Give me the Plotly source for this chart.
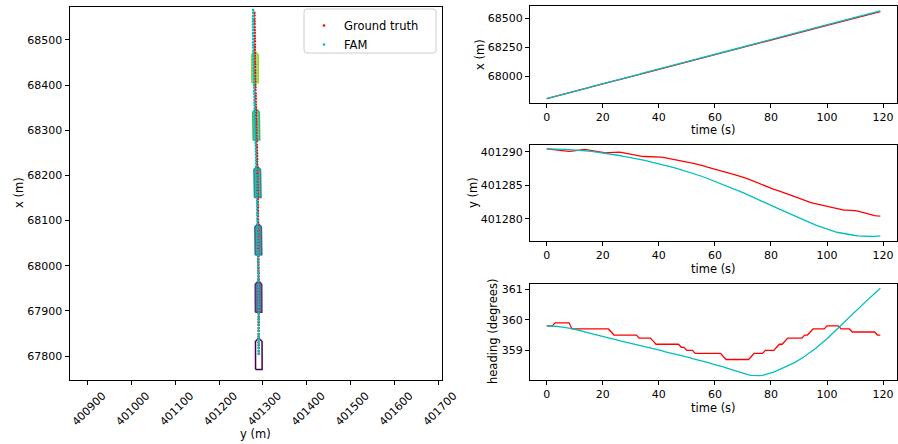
import math
import plotly.graph_objects as go
from plotly.colors import sample_colorscale

# ---------------- data ----------------
time_s = list(range(120))

x_gt = [67805, 67811, 67818, 67824, 67830, 67837, 67843, 67849, 67856, 67862,
        67869, 67875, 67881, 67887, 67894, 67900, 67907, 67913, 67919, 67926,
        67932, 67938, 67945, 67951, 67957, 67964, 67970, 67976, 67983, 67989,
        67995, 68002, 68008, 68014, 68021, 68027, 68033, 68040, 68046, 68053,
        68059, 68065, 68071, 68078, 68084, 68091, 68097, 68103, 68110, 68116,
        68122, 68129, 68135, 68141, 68148, 68154, 68160, 68167, 68173, 68179,
        68186, 68192, 68198, 68205, 68211, 68217, 68224, 68230, 68236, 68243,
        68249, 68255, 68262, 68268, 68275, 68281, 68287, 68294, 68300, 68306,
        68313, 68319, 68325, 68332, 68338, 68344, 68351, 68357, 68363, 68370,
        68376, 68382, 68389, 68395, 68401, 68408, 68414, 68420, 68427, 68433,
        68440, 68446, 68452, 68459, 68465, 68471, 68478, 68484, 68490, 68497,
        68503, 68509, 68516, 68522, 68528, 68535, 68541, 68547, 68554, 68560]

x_fam = [67805, 67811, 67818, 67824, 67830, 67837, 67843, 67849, 67856, 67862,
         67870, 67876, 67882, 67888, 67895, 67901, 67908, 67914, 67920, 67927,
         67933, 67939, 67946, 67952, 67958, 67965, 67971, 67977, 67984, 67990,
         67997, 68004, 68010, 68016, 68023, 68029, 68035, 68042, 68048, 68055,
         68061, 68067, 68073, 68080, 68086, 68093, 68099, 68105, 68112, 68118,
         68125, 68132, 68138, 68144, 68151, 68157, 68163, 68170, 68176, 68182,
         68189, 68195, 68201, 68208, 68214, 68220, 68227, 68233, 68239, 68246,
         68253, 68259, 68266, 68272, 68279, 68285, 68291, 68298, 68304, 68310,
         68317, 68323, 68329, 68336, 68342, 68348, 68355, 68361, 68367, 68374,
         68381, 68387, 68394, 68400, 68406, 68413, 68419, 68425, 68432, 68438,
         68445, 68451, 68457, 68464, 68470, 68476, 68483, 68489, 68495, 68502,
         68509, 68515, 68522, 68528, 68534, 68541, 68547, 68553, 68560, 68566]

y_gt = [401290.45, 401290.40, 401290.32, 401290.25, 401290.18, 401290.12, 401290.07, 401290.05, 401290.07, 401290.12,
        401290.18, 401290.25, 401290.32, 401290.35, 401290.32, 401290.25, 401290.16, 401290.06, 401289.97, 401289.90,
        401289.86, 401289.86, 401289.89, 401289.92, 401289.95, 401289.96, 401289.95, 401289.90, 401289.82, 401289.72,
        401289.62, 401289.52, 401289.43, 401289.36, 401289.32, 401289.31, 401289.31, 401289.31, 401289.31, 401289.30,
        401289.27, 401289.22, 401289.14, 401289.05, 401288.96, 401288.86, 401288.76, 401288.66, 401288.57, 401288.50,
        401288.44, 401288.38, 401288.32, 401288.24, 401288.14, 401288.02, 401287.90, 401287.77, 401287.64, 401287.51,
        401287.38, 401287.25, 401287.12, 401287.00, 401286.89, 401286.79, 401286.70, 401286.60, 401286.49, 401286.37,
        401286.23, 401286.08, 401285.92, 401285.75, 401285.57, 401285.38, 401285.19, 401285.01, 401284.84, 401284.68,
        401284.54, 401284.42, 401284.30, 401284.17, 401284.03, 401283.88, 401283.72, 401283.55, 401283.39, 401283.22,
        401283.06, 401282.90, 401282.75, 401282.61, 401282.48, 401282.36, 401282.26, 401282.17, 401282.08, 401281.98,
        401281.88, 401281.77, 401281.66, 401281.55, 401281.45, 401281.37, 401281.32, 401281.30, 401281.30, 401281.29,
        401281.24, 401281.15, 401281.03, 401280.90, 401280.78, 401280.67, 401280.58, 401280.50, 401280.44, 401280.40]

y_fam = [401290.45, 401290.45, 401290.44, 401290.43, 401290.42, 401290.40, 401290.38, 401290.36, 401290.33, 401290.31,
         401290.28, 401290.25, 401290.21, 401290.18, 401290.14, 401290.10, 401290.06, 401290.01, 401289.96, 401289.91,
         401289.85, 401289.79, 401289.73, 401289.67, 401289.60, 401289.53, 401289.46, 401289.38, 401289.31, 401289.23,
         401289.15, 401289.07, 401288.98, 401288.90, 401288.81, 401288.72, 401288.63, 401288.54, 401288.44, 401288.35,
         401288.25, 401288.14, 401288.03, 401287.92, 401287.81, 401287.70, 401287.58, 401287.46, 401287.33, 401287.21,
         401287.08, 401286.95, 401286.81, 401286.68, 401286.54, 401286.40, 401286.25, 401286.09, 401285.94, 401285.78,
         401285.62, 401285.46, 401285.30, 401285.13, 401284.97, 401284.80, 401284.63, 401284.45, 401284.28, 401284.10,
         401283.92, 401283.73, 401283.55, 401283.36, 401283.17, 401282.98, 401282.79, 401282.60, 401282.40, 401282.21,
         401282.02, 401281.83, 401281.64, 401281.45, 401281.26, 401281.07, 401280.86, 401280.68, 401280.49, 401280.31,
         401280.12, 401279.94, 401279.76, 401279.59, 401279.42, 401279.25, 401279.08, 401278.92, 401278.76, 401278.60,
         401278.45, 401278.32, 401278.19, 401278.07, 401277.97, 401277.88, 401277.79, 401277.71, 401277.64, 401277.57,
         401277.52, 401277.47, 401277.43, 401277.40, 401277.38, 401277.37, 401277.37, 401277.38, 401277.41, 401277.45]

hdg_gt = [359.8, 359.8, 359.8, 359.9, 359.9, 359.9, 359.9, 359.9, 359.9, 359.7,
          359.7, 359.7, 359.7, 359.7, 359.7, 359.7, 359.7, 359.7, 359.7, 359.7,
          359.7, 359.7, 359.7, 359.6, 359.5, 359.5, 359.5, 359.5, 359.5, 359.5,
          359.5, 359.5, 359.5, 359.4, 359.4, 359.4, 359.4, 359.4, 359.3, 359.2,
          359.2, 359.2, 359.2, 359.2, 359.2, 359.2, 359.2, 359.2, 359.1, 359.1,
          359.0, 359.0, 359.0, 358.9, 358.9, 358.9, 358.9, 358.9, 358.9, 358.9,
          358.9, 358.9, 358.9, 358.8, 358.7, 358.7, 358.7, 358.7, 358.7, 358.7,
          358.7, 358.7, 358.7, 358.8, 358.9, 358.9, 358.9, 358.9, 359.0, 359.0,
          359.0, 359.0, 359.1, 359.2, 359.2, 359.3, 359.4, 359.4, 359.4, 359.4,
          359.4, 359.4, 359.5, 359.5, 359.6, 359.7, 359.7, 359.7, 359.7, 359.7,
          359.8, 359.8, 359.8, 359.8, 359.8, 359.7, 359.7, 359.7, 359.7, 359.6,
          359.6, 359.6, 359.6, 359.6, 359.6, 359.6, 359.6, 359.6, 359.5, 359.5]

hdg_fam = [359.80, 359.80, 359.79, 359.79, 359.78, 359.77, 359.76, 359.74, 359.73, 359.71,
           359.69, 359.67, 359.65, 359.62, 359.60, 359.57, 359.55, 359.52, 359.50, 359.47,
           359.45, 359.43, 359.41, 359.38, 359.36, 359.34, 359.32, 359.29, 359.27, 359.25,
           359.23, 359.21, 359.18, 359.16, 359.14, 359.12, 359.10, 359.07, 359.05, 359.03,
           359.01, 358.99, 358.96, 358.94, 358.92, 358.90, 358.88, 358.85, 358.83, 358.80,
           358.78, 358.76, 358.73, 358.71, 358.68, 358.66, 358.64, 358.61, 358.59, 358.56,
           358.54, 358.51, 358.48, 358.46, 358.43, 358.40, 358.37, 358.34, 358.30, 358.27,
           358.24, 358.22, 358.20, 358.18, 358.17, 358.17, 358.17, 358.18, 358.20, 358.23,
           358.26, 358.29, 358.33, 358.36, 358.40, 358.44, 358.48, 358.53, 358.58, 358.63,
           358.68, 358.74, 358.80, 358.87, 358.93, 359.00, 359.07, 359.15, 359.22, 359.30,
           359.38, 359.47, 359.55, 359.64, 359.73, 359.82, 359.91, 360.00, 360.10, 360.19,
           360.28, 360.37, 360.45, 360.54, 360.62, 360.70, 360.78, 360.87, 360.95, 361.03]

ship_times = [0, 20, 40, 60, 80, 100]

left_xticks = [400900, 401000, 401100, 401200, 401300, 401400, 401500, 401600, 401700]
left_yticks = [67800, 67900, 68000, 68100, 68200, 68300, 68400, 68500]
time_ticks = [0, 20, 40, 60, 80, 100, 120]
x_ticks = [68000, 68250, 68500]
y_ticks = [401280, 401285, 401290]
hdg_ticks = [359, 360, 361]

# ---------------- style ----------------
W, H = 898, 444
RED = "#ff0000"
CYAN = "#00bfbf"
FONT = "DejaVu Sans"
TICK_FS = 11
LAB_FS = 11.5
SHIP_LEN = 70.0
SHIP_BEAM = 15.0
SHIP_BOW = 8.0


def px(xp):
    return xp / W


def py(yp):
    return 1 - yp / H


fig = go.Figure()

# ---- ships (left panel) ----
ship_cols = sample_colorscale("Viridis", [tt / (len(time_s) - 1) for tt in ship_times])
for i, tt in enumerate(ship_times):
    xc, yc = x_gt[tt], y_gt[tt]
    h = math.radians(hdg_gt[tt])
    body = [(-SHIP_LEN / 2, -SHIP_BEAM / 2), (SHIP_LEN / 2 - SHIP_BOW, -SHIP_BEAM / 2),
            (SHIP_LEN / 2, 0.0), (SHIP_LEN / 2 - SHIP_BOW, SHIP_BEAM / 2),
            (-SHIP_LEN / 2, SHIP_BEAM / 2), (-SHIP_LEN / 2, -SHIP_BEAM / 2)]
    px_n = [xc + f * math.cos(h) - s * math.sin(h) for f, s in body]
    px_e = [yc + f * math.sin(h) + s * math.cos(h) for f, s in body]
    col = ship_cols[i]
    rgb = col[col.index("(") + 1:col.index(")")]
    alpha = 0.0 if i == 0 else 0.75
    fig.add_trace(go.Scatter(x=px_e, y=px_n, mode="lines", fill="toself",
                             fillcolor=f"rgba({rgb},{alpha})",
                             line=dict(color=col, width=1.5),
                             showlegend=False, hoverinfo="skip",
                             xaxis="x", yaxis="y"))

fig.add_trace(go.Scatter(x=y_gt, y=x_gt, mode="markers", name="Ground truth",
                         marker=dict(color=RED, size=2.6), xaxis="x", yaxis="y"))
fig.add_trace(go.Scatter(x=y_fam, y=x_fam, mode="markers", name="FAM",
                         marker=dict(color=CYAN, size=2.6), xaxis="x", yaxis="y"))

# ---- right panels ----
for ax, gt, fam in [("2", x_gt, x_fam), ("3", y_gt, y_fam), ("4", hdg_gt, hdg_fam)]:
    fig.add_trace(go.Scatter(x=time_s, y=gt, mode="lines", line=dict(color=RED, width=1.3),
                             showlegend=False, xaxis="x" + ax, yaxis="y" + ax))
    fig.add_trace(go.Scatter(x=time_s, y=fam, mode="lines", line=dict(color=CYAN, width=1.3),
                             showlegend=False, xaxis="x" + ax, yaxis="y" + ax))

axis_common = dict(showline=True, linecolor="black", linewidth=1, mirror=True,
                   ticks="outside", ticklen=4, tickwidth=1, tickcolor="black",
                   showgrid=False, zeroline=False, tickformat="d", automargin=False,
                   tickfont=dict(family=FONT, size=TICK_FS, color="black"))

right_dom = [px(530), px(897)]
layout = dict(
    width=W, height=H, margin=dict(l=0, r=0, t=0, b=0, autoexpand=False),
    paper_bgcolor="white", plot_bgcolor="white",
    font=dict(family=FONT, size=LAB_FS, color="black"),
    xaxis=dict(domain=[px(69.5), px(442)], range=[400859, 401708], tickvals=left_xticks,
               tickangle=-45, ticklabelshift=15, anchor="y", **axis_common),
    yaxis=dict(domain=[py(380), py(6.5)], range=[67747, 68574], tickvals=left_yticks,
               anchor="x", **axis_common),
    xaxis2=dict(domain=right_dom, range=[-5.95, 124.95], tickvals=time_ticks, anchor="y2", **axis_common),
    yaxis2=dict(domain=[py(103), py(6)], range=[67767, 68608], tickvals=x_ticks, anchor="x2", **axis_common),
    xaxis3=dict(domain=right_dom, range=[-5.95, 124.95], tickvals=time_ticks, anchor="y3", **axis_common),
    yaxis3=dict(domain=[py(241), py(144.5)], range=[401276.7, 401291.1], tickvals=y_ticks, anchor="x3", **axis_common),
    xaxis4=dict(domain=right_dom, range=[-5.95, 124.95], tickvals=time_ticks, anchor="y4", **axis_common),
    yaxis4=dict(domain=[py(380), py(284)], range=[358.03, 361.17], tickvals=hdg_ticks, anchor="x4", **axis_common),
    showlegend=True,
    legend=dict(x=px(304), y=py(11), xanchor="left", yanchor="top",
                bgcolor="rgba(255,255,255,0)", borderwidth=0,
                font=dict(family=FONT, size=LAB_FS, color="black"),
                itemwidth=30, tracegroupgap=0),
)
fig.update_layout(**layout)

# rounded legend frame
x0, x1, y0, y1, r = 304, 436, 9, 53, 3
path = (f"M {px(x0 + r)},{py(y0)} L {px(x1 - r)},{py(y0)} Q {px(x1)},{py(y0)} {px(x1)},{py(y0 + r)} "
        f"L {px(x1)},{py(y1 - r)} Q {px(x1)},{py(y1)} {px(x1 - r)},{py(y1)} "
        f"L {px(x0 + r)},{py(y1)} Q {px(x0)},{py(y1)} {px(x0)},{py(y1 - r)} "
        f"L {px(x0)},{py(y0 + r)} Q {px(x0)},{py(y0)} {px(x0 + r)},{py(y0)} Z")
fig.add_shape(type="path", path=path, xref="paper", yref="paper",
              line=dict(color="#cccccc", width=1), fillcolor="rgba(255,255,255,0.8)", layer="above")

# axis titles
def title(text, xp, yp, angle=0):
    fig.add_annotation(text=text, x=px(xp), y=py(yp), xref="paper", yref="paper",
                       showarrow=False, textangle=angle, xanchor="center", yanchor="middle",
                       font=dict(family=FONT, size=LAB_FS, color="black"))

title("y (m)", 255.5, 434)
title("x (m)", 19, 193, -90)
title("time (s)", 713.5, 130.5)
title("time (s)", 713.5, 268.5)
title("time (s)", 713.5, 407.5)
title("x (m)", 480, 55, -90)
title("y (m)", 473, 193, -90)
title("heading (degrees)", 493, 332, -90)

fig.write_html("out.html")
